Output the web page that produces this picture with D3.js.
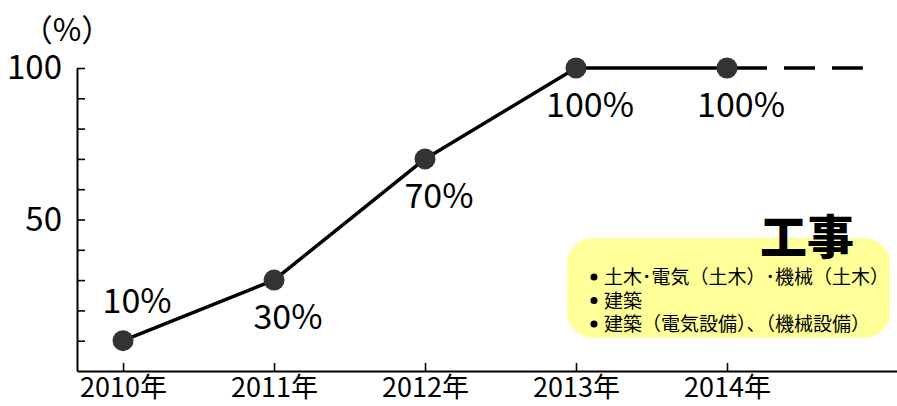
<!DOCTYPE html>
<html>
<head>
<meta charset="utf-8">
<script src="https://cdn.jsdelivr.net/npm/d3@7"></script>
<style>
  html, body { margin: 0; padding: 0; background: #fff; }
  svg { display: block; }
  text { font-family: "Noto Sans CJK JP", "Noto Sans", sans-serif; fill: #000; }
</style>
</head>
<body>
<svg id="chart" width="897" height="406"></svg>
<script>
// ---- data ----
const years = [2010, 2011, 2012, 2013, 2014];
const yearLabels = ["2010年", "2011年", "2012年", "2013年", "2014年"];
const values = [10, 30, 70, 100, 100];
const valueLabels = ["10%", "30%", "70%", "100%", "100%"];
const labelSide = ["above", "below", "below", "below", "below"];
const projectionYears = [2014, 2014.9];
const projectionValues = [100, 100];
const yTicks = [10, 20, 30, 40, 50, 60, 70, 80, 90, 100];
const yTickLabels = { 50: "50", 100: "100" };
const yUnit = "（%）";
const legendTitle = "工事";
const legendItems = [
  "土木･電気（土木）･機械（土木）",
  "建築",
  "建築（電気設備）、（機械設備）"
];

// ---- layout ----
const svg = d3.select("#chart");
const x = d3.scaleLinear().domain([2009.695, 2015.126]).range([77, 897]);
const y = d3.scaleLinear().domain([0, 100]).range([371, 68]);

// y axis
const yAxis = d3.axisLeft(y)
  .tickValues(yTicks)
  .tickSizeInner(-8)
  .tickSizeOuter(0)
  .tickPadding(15)
  .tickFormat(d => yTickLabels[d] || "");
const gy = svg.append("g").attr("transform", `translate(${x.range()[0]},0)`).call(yAxis);
gy.select(".domain").attr("stroke", "#000").attr("stroke-width", 2);
gy.selectAll(".tick line").attr("stroke", "#000").attr("stroke-width", 1.6);
gy.selectAll(".tick text")
  .style("font-family", '"Noto Sans CJK JP", sans-serif')
  .style("font-size", "33px")
  .attr("fill", "#000");

// x axis
const xAxis = d3.axisBottom(x)
  .tickValues(years)
  .tickSizeInner(-8)
  .tickSizeOuter(0)
  .tickPadding(7)
  .tickFormat((d, i) => yearLabels[i]);
const gx = svg.append("g").attr("transform", `translate(0,${y(0)})`).call(xAxis);
gx.select(".domain").attr("stroke", "#000").attr("stroke-width", 2);
gx.selectAll(".tick line").attr("stroke", "#000").attr("stroke-width", 1.6);
gx.selectAll(".tick text")
  .style("font-family", '"Noto Sans CJK JP", sans-serif')
  .style("font-size", "27px")
  .attr("fill", "#000");

// unit label
svg.append("text")
  .attr("x", 67).attr("y", 41)
  .attr("text-anchor", "middle")
  .style("font-size", "31px")
  .text(yUnit);

// line
const line = d3.line().x(d => x(d[0])).y(d => y(d[1]));
const pts = years.map((yr, i) => [yr, values[i]]);
svg.append("path")
  .datum(pts)
  .attr("d", line)
  .attr("fill", "none")
  .attr("stroke", "#000")
  .attr("stroke-width", 3.5)
  .attr("stroke-linejoin", "round");

// projection dashed
svg.append("path")
  .datum(projectionYears.map((yr, i) => [yr, projectionValues[i]]))
  .attr("d", line)
  .attr("fill", "none")
  .attr("stroke", "#000")
  .attr("stroke-width", 3.5)
  .attr("stroke-dasharray", "40,17,31,17,31,17");

// points
svg.selectAll("circle.pt")
  .data(pts)
  .join("circle")
  .attr("class", "pt")
  .attr("cx", d => x(d[0]))
  .attr("cy", d => y(d[1]))
  .attr("r", 10.5)
  .attr("fill", "#333");

// value labels
svg.selectAll("text.val")
  .data(pts)
  .join("text")
  .attr("class", "val")
  .attr("x", d => x(d[0]) + 14)
  .attr("y", (d, i) => y(d[1]) + (labelSide[i] === "above" ? -28 : 49))
  .attr("text-anchor", "middle")
  .style("font-size", "34px")
  .text((d, i) => valueLabels[i]);

// legend box
const lg = svg.append("g");
lg.append("rect")
  .attr("x", 567).attr("y", 238)
  .attr("width", 323).attr("height", 100)
  .attr("rx", 26).attr("ry", 26)
  .attr("fill", "#ffff99");
lg.append("text")
  .attr("x", 807).attr("y", 254)
  .attr("text-anchor", "middle")
  .style("font-size", "47px")
  .style("font-weight", "900")
  .text(legendTitle);
legendItems.forEach((t, i) => {
  const by = 284 + i * 23.5;
  lg.append("circle")
    .attr("cx", 594).attr("cy", by - 7)
    .attr("r", 3.5)
    .attr("fill", "#000");
  lg.append("text")
    .attr("x", 604).attr("y", by)
    .style("font-size", "19px")
    .text(t);
});
</script>
</body>
</html>
